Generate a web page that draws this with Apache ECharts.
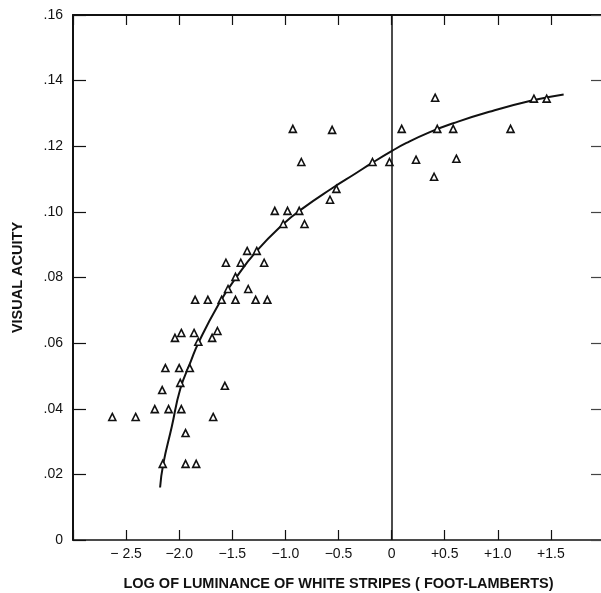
<!DOCTYPE html>
<html>
<head>
<meta charset="utf-8">
<script src="https://cdn.jsdelivr.net/npm/echarts@6/dist/echarts.min.js"></script>
<style>
  html, body { margin: 0; padding: 0; background: #fff; }
  #chart { width: 601px; height: 593px; }
</style>
</head>
<body>
<div id="chart"></div>
<script>
// observed points: log luminance (x) and visual acuity (y)
const obsX = [-2.63, -2.41, -2.23, -2.16, -2.13, -2.155, -2.10, -2.04, -1.98, -2.00,
  -1.99, -1.98, -1.94, -1.94, -1.90, -1.86, -1.85, -1.84, -1.82, -1.73,
  -1.69, -1.68, -1.64, -1.60, -1.57, -1.54, -1.47, -1.56, -1.42, -1.35,
  -1.47, -1.36, -1.27, -1.20, -1.28, -1.17, -1.10, -0.98, -0.87, -1.02,
  -0.82, -0.93, -0.85, -0.56, -0.58, -0.52, -0.18, -0.02, 0.095, 0.23,
  0.41, 0.43, 0.58, 0.40, 0.61, 1.12, 1.34, 1.46];
const obsY = [0.0375, 0.0375, 0.0399, 0.0457, 0.0524, 0.0232, 0.0399, 0.0616, 0.0631, 0.0524,
  0.0479, 0.0399, 0.0326, 0.0232, 0.0524, 0.0631, 0.0732, 0.0232, 0.0604, 0.0732,
  0.0616, 0.0375, 0.0637, 0.0732, 0.0470, 0.0765, 0.0732, 0.0845, 0.0845, 0.0765,
  0.0802, 0.0881, 0.0881, 0.0845, 0.0732, 0.0732, 0.1003, 0.1003, 0.1003, 0.0963,
  0.0963, 0.1253, 0.1152, 0.1250, 0.1037, 0.1070, 0.1152, 0.1152, 0.1253, 0.1159,
  0.1348, 0.1253, 0.1253, 0.1107, 0.1162, 0.1253, 0.1345, 0.1345];

// fitted curve
const curveX = [-2.18, -2.15, -2.07, -1.99, -1.89, -1.82, -1.63, -1.47, -1.27, -1.02,
  -0.84, -0.56, -0.34, -0.18, 0, 0.14, 0.36, 0.58, 0.92, 1.33, 1.62];
const curveY = [0.016, 0.0232, 0.0345, 0.0460, 0.0545, 0.0600, 0.0718, 0.0797, 0.0881, 0.0963,
  0.1010, 0.1072, 0.1117, 0.1150, 0.1185, 0.1210, 0.1243, 0.1270, 0.1305, 0.1340, 0.1358];

const xLabels = { '-2.5': '− 2.5', '-2': '−2.0', '-1.5': '−1.5', '-1': '−1.0', '-0.5': '−0.5',
  '0': '0', '0.5': '+0.5', '1': '+1.0', '1.5': '+1.5' };

const ink = '#111';
const font = '"Liberation Sans", Arial, sans-serif';

let chart = echarts.init(document.getElementById('chart'));

let option = {
    animation: false,
    backgroundColor: '#fff',
    grid: { left: 73, top: 15, width: 531, bottom: 53, outerBoundsMode: 'none' },
    xAxis: [
        {
            type: 'value',
            min: -3,
            max: 2,
            interval: 0.5,
            position: 'bottom',
            splitLine: { show: false },
            axisLine: { onZero: false, lineStyle: { color: ink, width: 1.5 } },
            axisTick: { inside: true, length: 10, lineStyle: { color: ink, width: 1.2 } },
            axisLabel: {
                color: ink, fontFamily: font, fontSize: 14, margin: 7,
                formatter: v => xLabels[String(v)] || ''
            },
            name: 'LOG OF LUMINANCE OF WHITE STRIPES ( FOOT-LAMBERTS)',
            nameLocation: 'middle',
            nameGap: 36,
            nameTextStyle: { color: ink, fontFamily: font, fontSize: 14.5, fontWeight: 'bold' }
        },
        {
            type: 'value',
            min: -3,
            max: 2,
            interval: 0.5,
            position: 'top',
            splitLine: { show: false },
            axisLine: { show: true, onZero: false, lineStyle: { color: ink, width: 2 } },
            axisTick: { inside: true, length: 10, lineStyle: { color: ink, width: 1.2 } },
            axisLabel: { show: false }
        }
    ],
    yAxis: [
        {
            type: 'value',
            min: 0,
            max: 0.16,
            interval: 0.02,
            position: 'left',
            splitLine: { show: false },
            axisLine: { onZero: false, lineStyle: { color: ink, width: 2 } },
            axisTick: { inside: true, length: 13, lineStyle: { color: ink, width: 1.2 } },
            axisLabel: {
                color: ink, fontFamily: font, fontSize: 14, margin: 10,
                formatter: v => v === 0 ? '0' : v.toFixed(2).replace(/^0/, '')
            },
            name: 'VISUAL ACUITY',
            nameLocation: 'middle',
            nameGap: 48,
            nameTextStyle: { color: ink, fontFamily: font, fontSize: 14.5, fontWeight: 'bold' }
        },
        {
            type: 'value',
            min: 0,
            max: 0.16,
            interval: 0.02,
            position: 'right',
            splitLine: { show: false },
            axisLine: { show: false, onZero: false },
            axisTick: { show: true, inside: true, length: 13, lineStyle: { color: '#444', width: 1.2 } },
            axisLabel: { show: false }
        }
    ],
    series: [
        {
            type: 'line',
            data: curveX.map((x, i) => [x, curveY[i]]),
            smooth: 0.5,
            showSymbol: false,
            symbol: 'none',
            lineStyle: { color: ink, width: 2 },
            z: 2,
            markLine: {
                silent: true,
                symbol: 'none',
                label: { show: false },
                lineStyle: { color: ink, width: 1.5, type: 'solid' },
                data: [{ xAxis: 0 }]
            }
        },
        {
            type: 'scatter',
            data: obsX.map((x, i) => [x, obsY[i]]),
            symbol: 'triangle',
            symbolSize: [7, 7],
            itemStyle: { color: '#fff', borderColor: ink, borderWidth: 1.6, opacity: 1 },
            z: 3
        }
    ]
};

chart.setOption(option, true);
window.addEventListener('resize', function () { chart.resize(); });
</script>
</body>
</html>
